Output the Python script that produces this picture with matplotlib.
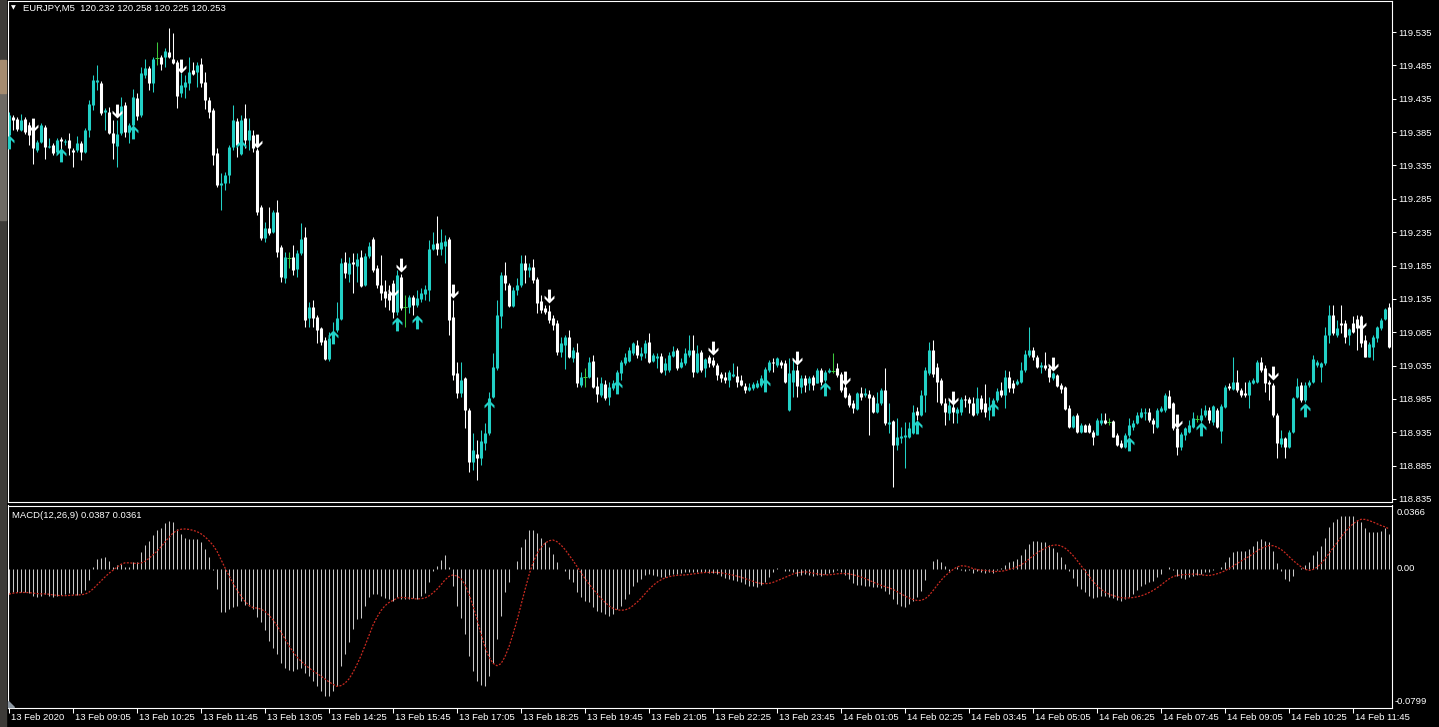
import numpy as np
import pandas as pd
import matplotlib
matplotlib.use("Agg")
import matplotlib.pyplot as plt
from matplotlib.path import Path
from matplotlib.patches import Rectangle, Polygon

plt.rcParams['font.family'] = ['Liberation Sans', 'DejaVu Sans']

symbol_title = "EURJPY,M5  120.232 120.258 120.225 120.253"
macd_title = "MACD(12,26,9) 0.0387 0.0361"

# EURJPY M5 candles
opens = [
    119.381, 119.408, 119.405, 119.388, 119.405, 119.396, 119.388, 119.358, 119.370, 119.393,
    119.363, 119.366, 119.355, 119.375, 119.370, 119.373, 119.358, 119.358, 119.369, 119.355,
    119.388, 119.426, 119.460, 119.459, 119.415, 119.415, 119.384, 119.364, 119.384, 119.426,
    119.385, 119.396, 119.436, 119.411, 119.471, 119.481, 119.459, 119.496, 119.498, 119.498,
    119.505, 119.495, 119.490, 119.444, 119.453, 119.459, 119.478, 119.475, 119.487, 119.460,
    119.433, 119.418, 119.354, 119.306, 119.309, 119.321, 119.363, 119.402, 119.358, 119.406,
    119.373, 119.381, 119.358, 119.273, 119.226, 119.241, 119.235, 119.265, 119.213, 119.166,
    119.196, 119.198, 119.180, 119.204, 119.228, 119.106, 119.123, 119.108, 119.091, 119.073,
    119.045, 119.076, 119.088, 119.105, 119.190, 119.172, 119.190, 119.184, 119.198, 119.156,
    119.199, 119.225, 119.181, 119.156, 119.147, 119.144, 119.156, 119.115, 119.168, 119.123,
    119.123, 119.138, 119.126, 119.135, 119.142, 119.148, 119.210, 119.219, 119.210, 119.214,
    119.225, 119.108, 119.024, 118.994, 119.016, 118.968, 118.890, 118.902, 118.896, 118.919,
    118.934, 118.988, 119.031, 119.109, 119.171, 119.156, 119.124, 119.148, 119.156, 119.189,
    119.178, 119.183, 119.165, 119.132, 119.121, 119.117, 119.106, 119.099, 119.055, 119.066,
    119.078, 119.046, 119.055, 119.006, 119.018, 119.018, 119.042, 119.004, 118.991, 119.007,
    118.988, 119.001, 119.003, 119.024, 119.039, 119.042, 119.054, 119.066, 119.049, 119.054,
    119.070, 119.042, 119.046, 119.049, 119.028, 119.028, 119.049, 119.058, 119.033, 119.039,
    119.051, 119.058, 119.025, 119.055, 119.031, 119.048, 119.043, 119.036, 119.022, 119.018,
    119.013, 119.019, 119.019, 119.013, 119.004, 118.998, 119.001, 119.003, 119.006, 119.013,
    119.028, 119.040, 119.036, 119.040, 119.039, 118.968, 119.010, 119.028, 119.003, 119.016,
    119.009, 119.018, 119.009, 119.028, 119.013, 119.025, 119.027, 119.031, 119.022, 119.003,
    118.991, 118.979, 118.970, 118.994, 118.991, 118.992, 118.988, 118.965, 118.979, 118.998,
    118.947, 118.952, 118.916, 118.926, 118.928, 118.928, 118.934, 118.967, 118.961, 118.991,
    119.024, 119.058, 119.033, 119.013, 118.979, 118.964, 118.973, 118.964, 118.965, 118.985,
    118.985, 118.979, 118.964, 118.986, 118.979, 118.968, 118.965, 118.983, 118.998, 118.991,
    119.018, 119.009, 119.007, 119.010, 119.028, 119.051, 119.058, 119.048, 119.033, 119.036,
    119.031, 119.016, 119.021, 119.006, 119.003, 118.971, 118.943, 118.961, 118.935, 118.946,
    118.946, 118.935, 118.931, 118.949, 118.953, 118.950, 118.952, 118.931, 118.919, 118.913,
    118.931, 118.943, 118.949, 118.958, 118.964, 118.965, 118.953, 118.943, 118.967, 118.968,
    118.989, 118.979, 118.941, 118.913, 118.931, 118.935, 118.943, 118.955, 118.953, 118.961,
    118.968, 118.950, 118.968, 118.937, 118.973, 119.004, 119.000, 119.010, 118.998, 118.994,
    118.991, 119.009, 119.010, 119.040, 119.031, 119.010, 119.006, 118.961, 118.917, 118.926,
    118.913, 118.935, 118.988, 119.006, 118.983, 119.006, 119.010, 119.036, 119.033, 119.039,
    119.081, 119.111, 119.081, 119.099, 119.099, 119.081, 119.099, 119.105, 119.099, 119.073,
    119.048, 119.063, 119.076, 119.091, 119.105, 119.123,
]
highs = [
    119.415, 119.411, 119.408, 119.412, 119.408, 119.400, 119.396, 119.373, 119.399, 119.396,
    119.376, 119.369, 119.376, 119.378, 119.375, 119.384, 119.361, 119.379, 119.372, 119.391,
    119.433, 119.471, 119.486, 119.462, 119.421, 119.423, 119.403, 119.403, 119.438, 119.430,
    119.399, 119.450, 119.444, 119.483, 119.495, 119.484, 119.498, 119.520, 119.501, 119.511,
    119.541, 119.534, 119.493, 119.474, 119.471, 119.498, 119.490, 119.490, 119.496, 119.475,
    119.438, 119.421, 119.361, 119.324, 119.325, 119.366, 119.426, 119.406, 119.411, 119.427,
    119.406, 119.388, 119.361, 119.276, 119.250, 119.273, 119.268, 119.283, 119.216, 119.205,
    119.205, 119.216, 119.208, 119.249, 119.243, 119.130, 119.133, 119.111, 119.093, 119.078,
    119.085, 119.100, 119.130, 119.196, 119.205, 119.198, 119.204, 119.204, 119.208, 119.204,
    119.220, 119.228, 119.186, 119.201, 119.163, 119.156, 119.163, 119.178, 119.172, 119.141,
    119.141, 119.141, 119.148, 119.151, 119.156, 119.223, 119.235, 119.259, 119.240, 119.231,
    119.228, 119.133, 119.040, 119.040, 119.018, 118.971, 118.934, 118.923, 118.938, 118.949,
    118.995, 119.054, 119.133, 119.175, 119.190, 119.159, 119.153, 119.166, 119.201, 119.201,
    119.189, 119.195, 119.168, 119.141, 119.126, 119.126, 119.111, 119.103, 119.078, 119.081,
    119.088, 119.063, 119.069, 119.025, 119.031, 119.048, 119.051, 119.018, 119.018, 119.013,
    119.010, 119.013, 119.028, 119.043, 119.054, 119.063, 119.070, 119.073, 119.063, 119.073,
    119.084, 119.054, 119.054, 119.054, 119.046, 119.055, 119.064, 119.061, 119.046, 119.061,
    119.081, 119.081, 119.066, 119.058, 119.046, 119.051, 119.048, 119.039, 119.025, 119.025,
    119.028, 119.039, 119.034, 119.021, 119.009, 119.009, 119.010, 119.013, 119.021, 119.033,
    119.043, 119.046, 119.048, 119.043, 119.043, 119.046, 119.046, 119.036, 119.021, 119.021,
    119.019, 119.021, 119.031, 119.031, 119.028, 119.031, 119.054, 119.039, 119.025, 119.009,
    118.994, 118.983, 118.995, 119.003, 119.001, 118.998, 118.991, 118.995, 119.001, 119.031,
    118.979, 118.953, 118.956, 118.943, 118.950, 118.950, 118.976, 118.973, 118.998, 119.033,
    119.070, 119.073, 119.039, 119.016, 118.986, 118.983, 118.983, 118.973, 118.988, 118.991,
    118.988, 118.988, 119.003, 118.991, 119.007, 118.988, 118.986, 119.001, 119.010, 119.028,
    119.027, 119.013, 119.015, 119.040, 119.058, 119.093, 119.063, 119.051, 119.040, 119.055,
    119.036, 119.025, 119.022, 119.009, 119.004, 118.976, 118.961, 118.964, 118.949, 118.947,
    118.949, 118.938, 118.956, 118.964, 118.964, 118.956, 118.953, 118.934, 118.923, 118.934,
    118.956, 118.953, 118.965, 118.971, 118.971, 118.971, 118.956, 118.971, 118.974, 118.994,
    118.998, 118.980, 118.946, 118.935, 118.943, 118.953, 118.965, 118.961, 118.971, 118.976,
    118.973, 118.976, 118.971, 118.977, 119.006, 119.009, 119.048, 119.028, 119.001, 119.010,
    119.013, 119.016, 119.043, 119.048, 119.036, 119.013, 119.009, 118.964, 118.938, 118.928,
    118.938, 118.988, 119.016, 119.010, 119.010, 119.013, 119.051, 119.043, 119.040, 119.093,
    119.126, 119.126, 119.103, 119.126, 119.103, 119.091, 119.109, 119.111, 119.111, 119.081,
    119.070, 119.081, 119.094, 119.106, 119.121, 119.129,
]
lows = [
    119.373, 119.388, 119.387, 119.387, 119.382, 119.366, 119.337, 119.355, 119.369, 119.345,
    119.361, 119.351, 119.352, 119.355, 119.366, 119.351, 119.333, 119.355, 119.343, 119.354,
    119.378, 119.418, 119.448, 119.411, 119.388, 119.382, 119.345, 119.333, 119.381, 119.378,
    119.369, 119.388, 119.403, 119.408, 119.466, 119.448, 119.445, 119.486, 119.478, 119.483,
    119.496, 119.487, 119.421, 119.438, 119.436, 119.448, 119.471, 119.453, 119.453, 119.420,
    119.406, 119.336, 119.303, 119.268, 119.298, 119.309, 119.358, 119.348, 119.351, 119.361,
    119.358, 119.355, 119.261, 119.223, 119.220, 119.231, 119.234, 119.198, 119.160, 119.159,
    119.181, 119.171, 119.168, 119.201, 119.093, 119.093, 119.093, 119.069, 119.066, 119.043,
    119.042, 119.073, 119.085, 119.103, 119.166, 119.160, 119.144, 119.160, 119.153, 119.154,
    119.196, 119.175, 119.151, 119.133, 119.123, 119.118, 119.106, 119.111, 119.118, 119.093,
    119.114, 119.111, 119.123, 119.130, 119.133, 119.132, 119.208, 119.201, 119.201, 119.189,
    119.081, 119.013, 118.986, 118.988, 118.941, 118.875, 118.878, 118.863, 118.886, 118.908,
    118.931, 118.986, 119.028, 119.091, 119.148, 119.123, 119.123, 119.141, 119.153, 119.159,
    119.168, 119.159, 119.114, 119.114, 119.112, 119.099, 119.088, 119.051, 119.048, 119.030,
    119.046, 119.040, 119.003, 119.003, 119.003, 119.016, 119.001, 118.980, 118.988, 118.983,
    118.976, 118.998, 119.001, 119.013, 119.036, 119.040, 119.051, 119.046, 119.043, 119.046,
    119.039, 119.040, 119.031, 119.024, 119.021, 119.025, 119.048, 119.028, 119.031, 119.036,
    119.048, 119.018, 119.024, 119.025, 119.018, 119.033, 119.033, 119.013, 119.010, 119.009,
    119.003, 119.018, 119.003, 119.004, 118.994, 118.997, 118.998, 119.001, 119.003, 119.006,
    119.025, 119.025, 119.033, 119.031, 119.009, 118.967, 118.988, 118.988, 118.994, 118.995,
    118.998, 118.998, 119.009, 119.006, 119.010, 119.024, 119.024, 119.018, 118.995, 118.986,
    118.973, 118.964, 118.968, 118.983, 118.988, 118.931, 118.964, 118.964, 118.976, 118.946,
    118.934, 118.853, 118.908, 118.919, 118.881, 118.926, 118.932, 118.953, 118.959, 118.965,
    119.021, 119.018, 118.980, 118.976, 118.946, 118.953, 118.949, 118.949, 118.961, 118.973,
    118.964, 118.959, 118.961, 118.965, 118.958, 118.953, 118.961, 118.980, 118.988, 118.971,
    118.995, 118.994, 119.006, 119.009, 119.025, 119.048, 119.043, 119.031, 119.024, 119.028,
    119.010, 119.013, 119.003, 118.994, 118.968, 118.941, 118.941, 118.934, 118.934, 118.935,
    118.934, 118.916, 118.931, 118.946, 118.947, 118.946, 118.928, 118.914, 118.911, 118.911,
    118.928, 118.938, 118.947, 118.956, 118.953, 118.950, 118.934, 118.941, 118.965, 118.965,
    118.971, 118.938, 118.901, 118.908, 118.923, 118.934, 118.941, 118.950, 118.950, 118.958,
    118.949, 118.946, 118.941, 118.919, 118.971, 118.998, 118.998, 118.995, 118.988, 118.988,
    118.971, 119.007, 119.009, 119.025, 118.995, 118.983, 118.958, 118.896, 118.913, 118.896,
    118.911, 118.934, 118.986, 118.980, 118.980, 119.003, 119.009, 119.033, 119.010, 119.036,
    119.069, 119.081, 119.078, 119.084, 119.069, 119.066, 119.084, 119.058, 119.063, 119.048,
    119.048, 119.043, 119.070, 119.088, 119.103, 119.061,
]
closes = [
    119.411, 119.403, 119.390, 119.403, 119.385, 119.381, 119.361, 119.370, 119.396, 119.363,
    119.364, 119.354, 119.373, 119.372, 119.372, 119.361, 119.355, 119.369, 119.355, 119.388,
    119.427, 119.463, 119.463, 119.414, 119.418, 119.384, 119.369, 119.382, 119.424, 119.385,
    119.396, 119.438, 119.409, 119.474, 119.481, 119.459, 119.495, 119.496, 119.487, 119.507,
    119.498, 119.489, 119.439, 119.456, 119.460, 119.475, 119.472, 119.486, 119.459, 119.433,
    119.415, 119.351, 119.306, 119.309, 119.321, 119.363, 119.403, 119.366, 119.403, 119.373,
    119.388, 119.361, 119.265, 119.226, 119.241, 119.234, 119.265, 119.205, 119.168, 119.198,
    119.196, 119.178, 119.204, 119.225, 119.103, 119.123, 119.106, 119.088, 119.070, 119.045,
    119.076, 119.085, 119.106, 119.189, 119.174, 119.189, 119.187, 119.195, 119.154, 119.199,
    119.214, 119.178, 119.156, 119.144, 119.136, 119.133, 119.115, 119.171, 119.121, 119.123,
    119.138, 119.126, 119.136, 119.144, 119.150, 119.210, 119.217, 119.210, 119.220, 119.222,
    119.103, 119.021, 118.994, 119.013, 118.968, 118.890, 118.908, 118.896, 118.922, 118.934,
    118.986, 119.033, 119.111, 119.171, 119.159, 119.124, 119.148, 119.156, 119.189, 119.178,
    119.183, 119.163, 119.129, 119.118, 119.115, 119.103, 119.096, 119.055, 119.069, 119.078,
    119.048, 119.058, 119.009, 119.018, 119.018, 119.040, 119.003, 118.992, 119.009, 118.986,
    119.003, 119.009, 119.025, 119.040, 119.048, 119.058, 119.069, 119.051, 119.054, 119.069,
    119.040, 119.051, 119.049, 119.025, 119.039, 119.051, 119.057, 119.031, 119.040, 119.054,
    119.058, 119.025, 119.054, 119.028, 119.045, 119.039, 119.036, 119.021, 119.016, 119.013,
    119.025, 119.022, 119.010, 119.006, 118.998, 119.003, 119.007, 119.009, 119.016, 119.030,
    119.040, 119.039, 119.046, 119.036, 119.010, 119.024, 119.028, 119.004, 119.016, 119.006,
    119.016, 119.006, 119.028, 119.010, 119.025, 119.028, 119.027, 119.021, 118.998, 118.988,
    118.976, 118.971, 118.994, 118.988, 118.994, 118.986, 118.965, 118.979, 118.998, 118.949,
    118.950, 118.916, 118.928, 118.929, 118.931, 118.941, 118.965, 118.961, 118.991, 119.028,
    119.058, 119.022, 119.010, 118.979, 118.965, 118.976, 118.965, 118.970, 118.985, 118.983,
    118.979, 118.961, 118.986, 118.970, 118.965, 118.973, 118.983, 118.997, 118.991, 119.018,
    119.001, 119.001, 119.012, 119.028, 119.052, 119.058, 119.048, 119.033, 119.036, 119.031,
    119.018, 119.024, 119.004, 119.000, 118.970, 118.943, 118.959, 118.935, 118.946, 118.935,
    118.935, 118.928, 118.953, 118.953, 118.949, 118.950, 118.928, 118.916, 118.913, 118.931,
    118.946, 118.949, 118.961, 118.965, 118.965, 118.953, 118.947, 118.968, 118.971, 118.991,
    118.971, 118.941, 118.913, 118.932, 118.941, 118.946, 118.956, 118.955, 118.961, 118.968,
    118.953, 118.974, 118.943, 118.974, 119.003, 119.001, 119.010, 118.998, 118.991, 118.991,
    119.010, 119.013, 119.040, 119.028, 119.009, 119.007, 118.961, 118.919, 118.926, 118.913,
    118.935, 118.986, 119.004, 118.983, 119.006, 119.010, 119.045, 119.040, 119.039, 119.081,
    119.111, 119.084, 119.091, 119.096, 119.078, 119.090, 119.085, 119.091, 119.069, 119.048,
    119.067, 119.078, 119.093, 119.103, 119.120, 119.063,
]

# MACD(12,26,9) main line per bar (drawn as histogram)
macd_main = [
    -0.0145, -0.0135, -0.0131, -0.0131, -0.0135, -0.0141, -0.0155, -0.0164, -0.0155, -0.0145,
    -0.0155, -0.0164, -0.0155, -0.0149, -0.0145, -0.0141, -0.0145, -0.0149, -0.0139, -0.0120,
    -0.0062, 0.0010, 0.0058, 0.0062, 0.0068, 0.0048, 0.0010, 0.0020, 0.0029, 0.0014,
    0.0010, 0.0039, 0.0043, 0.0097, 0.0139, 0.0164, 0.0197, 0.0222, 0.0236, 0.0267,
    0.0274, 0.0271, 0.0228, 0.0203, 0.0178, 0.0174, 0.0174, 0.0170, 0.0155, 0.0116,
    0.0068, -0.0004, -0.0116, -0.0251, -0.0251, -0.0232, -0.0222, -0.0213, -0.0184, -0.0209,
    -0.0213, -0.0232, -0.0275, -0.0306, -0.0352, -0.0415, -0.0454, -0.0493, -0.0541, -0.0570,
    -0.0580, -0.0589, -0.0576, -0.0570, -0.0599, -0.0618, -0.0647, -0.0676, -0.0705, -0.0734,
    -0.0734, -0.0705, -0.0676, -0.0560, -0.0493, -0.0421, -0.0344, -0.0290, -0.0280, -0.0216,
    -0.0164, -0.0145, -0.0145, -0.0155, -0.0170, -0.0174, -0.0184, -0.0164, -0.0174, -0.0174,
    -0.0174, -0.0170, -0.0174, -0.0155, -0.0139, -0.0073, -0.0010, 0.0019, 0.0054, 0.0081,
    0.0010, -0.0097, -0.0213, -0.0280, -0.0377, -0.0502, -0.0589, -0.0647, -0.0667, -0.0676,
    -0.0618, -0.0541, -0.0406, -0.0271, -0.0135, -0.0073, 0.0000, 0.0048, 0.0126, 0.0174,
    0.0222, 0.0226, 0.0209, 0.0178, 0.0155, 0.0126, 0.0087, 0.0039, 0.0000, -0.0010,
    -0.0058, -0.0077, -0.0131, -0.0164, -0.0184, -0.0193, -0.0222, -0.0242, -0.0251, -0.0261,
    -0.0271, -0.0261, -0.0232, -0.0213, -0.0174, -0.0145, -0.0097, -0.0073, -0.0058, -0.0035,
    -0.0029, -0.0035, -0.0043, -0.0048, -0.0048, -0.0035, -0.0029, -0.0029, -0.0023, -0.0019,
    -0.0015, -0.0015, -0.0019, -0.0019, -0.0015, -0.0023, -0.0023, -0.0029, -0.0039, -0.0054,
    -0.0058, -0.0062, -0.0068, -0.0077, -0.0087, -0.0097, -0.0101, -0.0106, -0.0093, -0.0073,
    -0.0048, -0.0015, 0.0004, 0.0000, -0.0010, -0.0010, -0.0015, -0.0039, -0.0035, -0.0029,
    -0.0035, -0.0043, -0.0035, -0.0039, -0.0029, -0.0023, -0.0015, -0.0004, -0.0015, -0.0035,
    -0.0058, -0.0081, -0.0093, -0.0093, -0.0097, -0.0101, -0.0106, -0.0106, -0.0112, -0.0126,
    -0.0145, -0.0174, -0.0203, -0.0213, -0.0222, -0.0203, -0.0184, -0.0164, -0.0126, -0.0062,
    0.0000, 0.0048, 0.0058, 0.0043, 0.0019, -0.0010, 0.0000, 0.0010, -0.0004, -0.0010,
    -0.0004, -0.0023, -0.0010, -0.0015, -0.0023, -0.0019, -0.0023, -0.0004, 0.0004, 0.0023,
    0.0043, 0.0048, 0.0058, 0.0081, 0.0116, 0.0145, 0.0160, 0.0160, 0.0155, 0.0155,
    0.0139, 0.0120, 0.0097, 0.0068, 0.0029, -0.0010, -0.0054, -0.0097, -0.0116, -0.0135,
    -0.0155, -0.0170, -0.0164, -0.0155, -0.0155, -0.0159, -0.0170, -0.0178, -0.0184, -0.0174,
    -0.0164, -0.0145, -0.0120, -0.0101, -0.0087, -0.0073, -0.0068, -0.0048, -0.0029, 0.0000,
    0.0010, -0.0004, -0.0039, -0.0054, -0.0058, -0.0048, -0.0043, -0.0035, -0.0029, -0.0019,
    -0.0015, -0.0004, 0.0000, 0.0010, 0.0043, 0.0068, 0.0097, 0.0106, 0.0106, 0.0106,
    0.0116, 0.0131, 0.0159, 0.0174, 0.0159, 0.0155, 0.0101, 0.0035, -0.0010, -0.0058,
    -0.0068, -0.0043, 0.0000, 0.0004, 0.0023, 0.0043, 0.0081, 0.0106, 0.0135, 0.0178,
    0.0242, 0.0271, 0.0290, 0.0306, 0.0306, 0.0306, 0.0306, 0.0280, 0.0271, 0.0236,
    0.0213, 0.0213, 0.0213, 0.0217, 0.0236, 0.0203,
]

# signal arrows (bar index, price at arrow tip)
down_arrow_bars = [6, 27, 43, 62, 96, 98, 111, 135, 176, 197, 209, 236, 261, 292, 316, 338]
down_arrow_prices = [119.385, 119.406, 119.474, 119.361, 119.138, 119.175, 119.136, 119.129,
                     119.051, 119.036, 119.006, 118.976, 119.027, 118.941, 119.013, 119.088]
up_arrow_bars = [0, 13, 31, 58, 81, 97, 102, 120, 152, 189, 204, 227, 246, 280, 298, 324]
up_arrow_prices = [119.381, 119.361, 119.396, 119.373, 119.088, 119.108, 119.111, 118.983,
                   119.013, 119.016, 119.010, 118.953, 118.980, 118.928, 118.950, 118.979]

price_ticks = [119.535, 119.485, 119.435, 119.385, 119.335, 119.285, 119.235, 119.185,
               119.135, 119.085, 119.035, 118.985, 118.935, 118.885, 118.835]
macd_ticks = [0.0366, 0.0, -0.0799]
macd_tick_labels = ["0.0366", "0.00", "-0.0799"]
time_labels = ["13 Feb 2020", "13 Feb 09:05", "13 Feb 10:25", "13 Feb 11:45", "13 Feb 13:05",
               "13 Feb 14:25", "13 Feb 15:45", "13 Feb 17:05", "13 Feb 18:25", "13 Feb 19:45",
               "13 Feb 21:05", "13 Feb 22:25", "13 Feb 23:45", "14 Feb 01:05", "14 Feb 02:25",
               "14 Feb 03:45", "14 Feb 05:05", "14 Feb 06:25", "14 Feb 07:45", "14 Feb 09:05",
               "14 Feb 10:25", "14 Feb 11:45"]
bars_per_label = 16

BULL = '#22d0c6'
BEAR = '#ffffff'
DOJI = '#3cc83c'
HIST = '#c8c8c8'
SIGNAL = '#c82a20'
FS = 6.8

W, H = 1439, 727
fig = plt.figure(figsize=(W / 100, H / 100), dpi=100, facecolor='black')


def px_box(x0, y0, x1, y1):
    return [x0 / W, 1 - y1 / H, (x1 - x0) / W, (y1 - y0) / H]


# window edge on the left
fig.add_artist(Rectangle((0, 0), 6 / W, 1, transform=fig.transFigure, color='#3d3b38', zorder=0))
fig.add_artist(Rectangle((0, 1 - 220 / H), 6 / W, 127 / H, transform=fig.transFigure, color='#6e6a64', zorder=0))
fig.add_artist(Rectangle((0, 1 - 93 / H), 6 / W, 33 / H, transform=fig.transFigure, color='#a68c70', zorder=0))

ax = fig.add_axes(px_box(8, 1, 1392, 502))
ax2 = fig.add_axes(px_box(8, 505.5, 1392, 707.5))
for a in (ax, ax2):
    a.set_facecolor('black')
    for s in a.spines.values():
        s.set_color('white')
        s.set_linewidth(0.8)

o = np.array(opens)
h = np.array(highs)
l = np.array(lows)
c = np.array(closes)
x = np.arange(len(c))
up = c > o
dn = c < o
flat = ~(up | dn)
col = np.where(up, BULL, np.where(dn, BEAR, DOJI))

wicks = ax.vlines(x, l, h, colors=col, lw=0.75)
wicks.set_capstyle('butt')
bodies = ax.vlines(x[~flat], o[~flat], c[~flat], colors=col[~flat], lw=2.2)
bodies.set_capstyle('butt')
ax.hlines(c[flat], x[flat] - 0.4, x[flat] + 0.4, colors=DOJI, lw=0.75)

# arrow markers, tip at the point
arrow_verts = [(0, 0), (5, 5), (5, 8), (1.5, 4.5), (1.5, 14), (-1.5, 14), (-1.5, 4.5),
               (-5, 8), (-5, 5), (0, 0)]
down_marker = Path(arrow_verts, closed=True)
up_marker = Path([(vx, -vy) for vx, vy in arrow_verts], closed=True)
ax.plot(down_arrow_bars, down_arrow_prices, ls='none', marker=down_marker, ms=20,
        mfc=BEAR, mec='none', zorder=5)
ax.plot(up_arrow_bars, up_arrow_prices, ls='none', marker=up_marker, ms=20,
        mfc=BULL, mec='none', zorder=5)

ax.set_xlim(-0.25, len(c) - 0.25)
ax.set_ylim(118.8305, 119.5815)
ax.set_xticks([])
ax.yaxis.tick_right()
ax.set_yticks(price_ticks)
ax.set_yticklabels([f'{p:.3f}' for p in price_ticks])
ax.tick_params(axis='y', direction='out', length=3, width=0.75, colors='white',
               labelsize=FS, pad=1.5)

# MACD pane
m = np.array(macd_main)
signal = pd.Series(m).rolling(9, min_periods=1).mean()
hist = ax2.vlines(x, 0, m, colors=HIST, lw=0.75)
hist.set_capstyle('butt')
ax2.plot(x, signal, color=SIGNAL, lw=0.9, ls=(0, (1.6, 1.2)))
ax2.set_xlim(-0.25, len(c) - 0.25)
ax2.set_ylim(-0.0799, 0.0366)
ax2.set_yticks([])
tick_pos = list(range(0, len(c), bars_per_label))[:len(time_labels)]
ax2.set_xticks(tick_pos)
ax2.set_xticklabels([])
ax2.tick_params(axis='x', direction='out', length=3.5, width=0.75, color='white')
for pos, lab in zip(tick_pos, time_labels):
    ax2.annotate(lab, xy=(pos, 0), xycoords=('data', 'axes fraction'), xytext=(1.5, -3.8),
                 textcoords='offset points', ha='left', va='top', color='white', fontsize=FS)

ax2.annotate(macd_tick_labels[0], xy=(1, 1), xycoords='axes fraction', xytext=(3, -1.5),
             textcoords='offset points', ha='left', va='top', color='white', fontsize=FS)
ax2.annotate(macd_tick_labels[1], xy=(1, macd_ticks[1]), xycoords=('axes fraction', 'data'),
             xytext=(3, 0), textcoords='offset points', ha='left', va='center',
             color='white', fontsize=FS)
ax2.annotate(macd_tick_labels[2], xy=(1, 0), xycoords='axes fraction', xytext=(2, 1),
             textcoords='offset points', ha='left', va='bottom', color='white', fontsize=FS)

# scroll marker at bottom-left of the indicator pane
fig.add_artist(Polygon([(8 / W, 1 - 701 / H), (8 / W, 1 - 707 / H), (14 / W, 1 - 707 / H)],
                       closed=True, transform=fig.transFigure, color='#8c96a0'))

# titles
fig.text(13.5 / W, 1 - 8 / H, '\u25bc', fontsize=4.5, color='white', ha='center', va='center',
         family='DejaVu Sans')
fig.text(23 / W, 1 - 8.5 / H, symbol_title, fontsize=FS, color='white', ha='left', va='center')
fig.text(12 / W, 1 - 515 / H, macd_title, fontsize=FS, color='white', ha='left', va='center')

fig.savefig('out.png', dpi=100, facecolor='black')
